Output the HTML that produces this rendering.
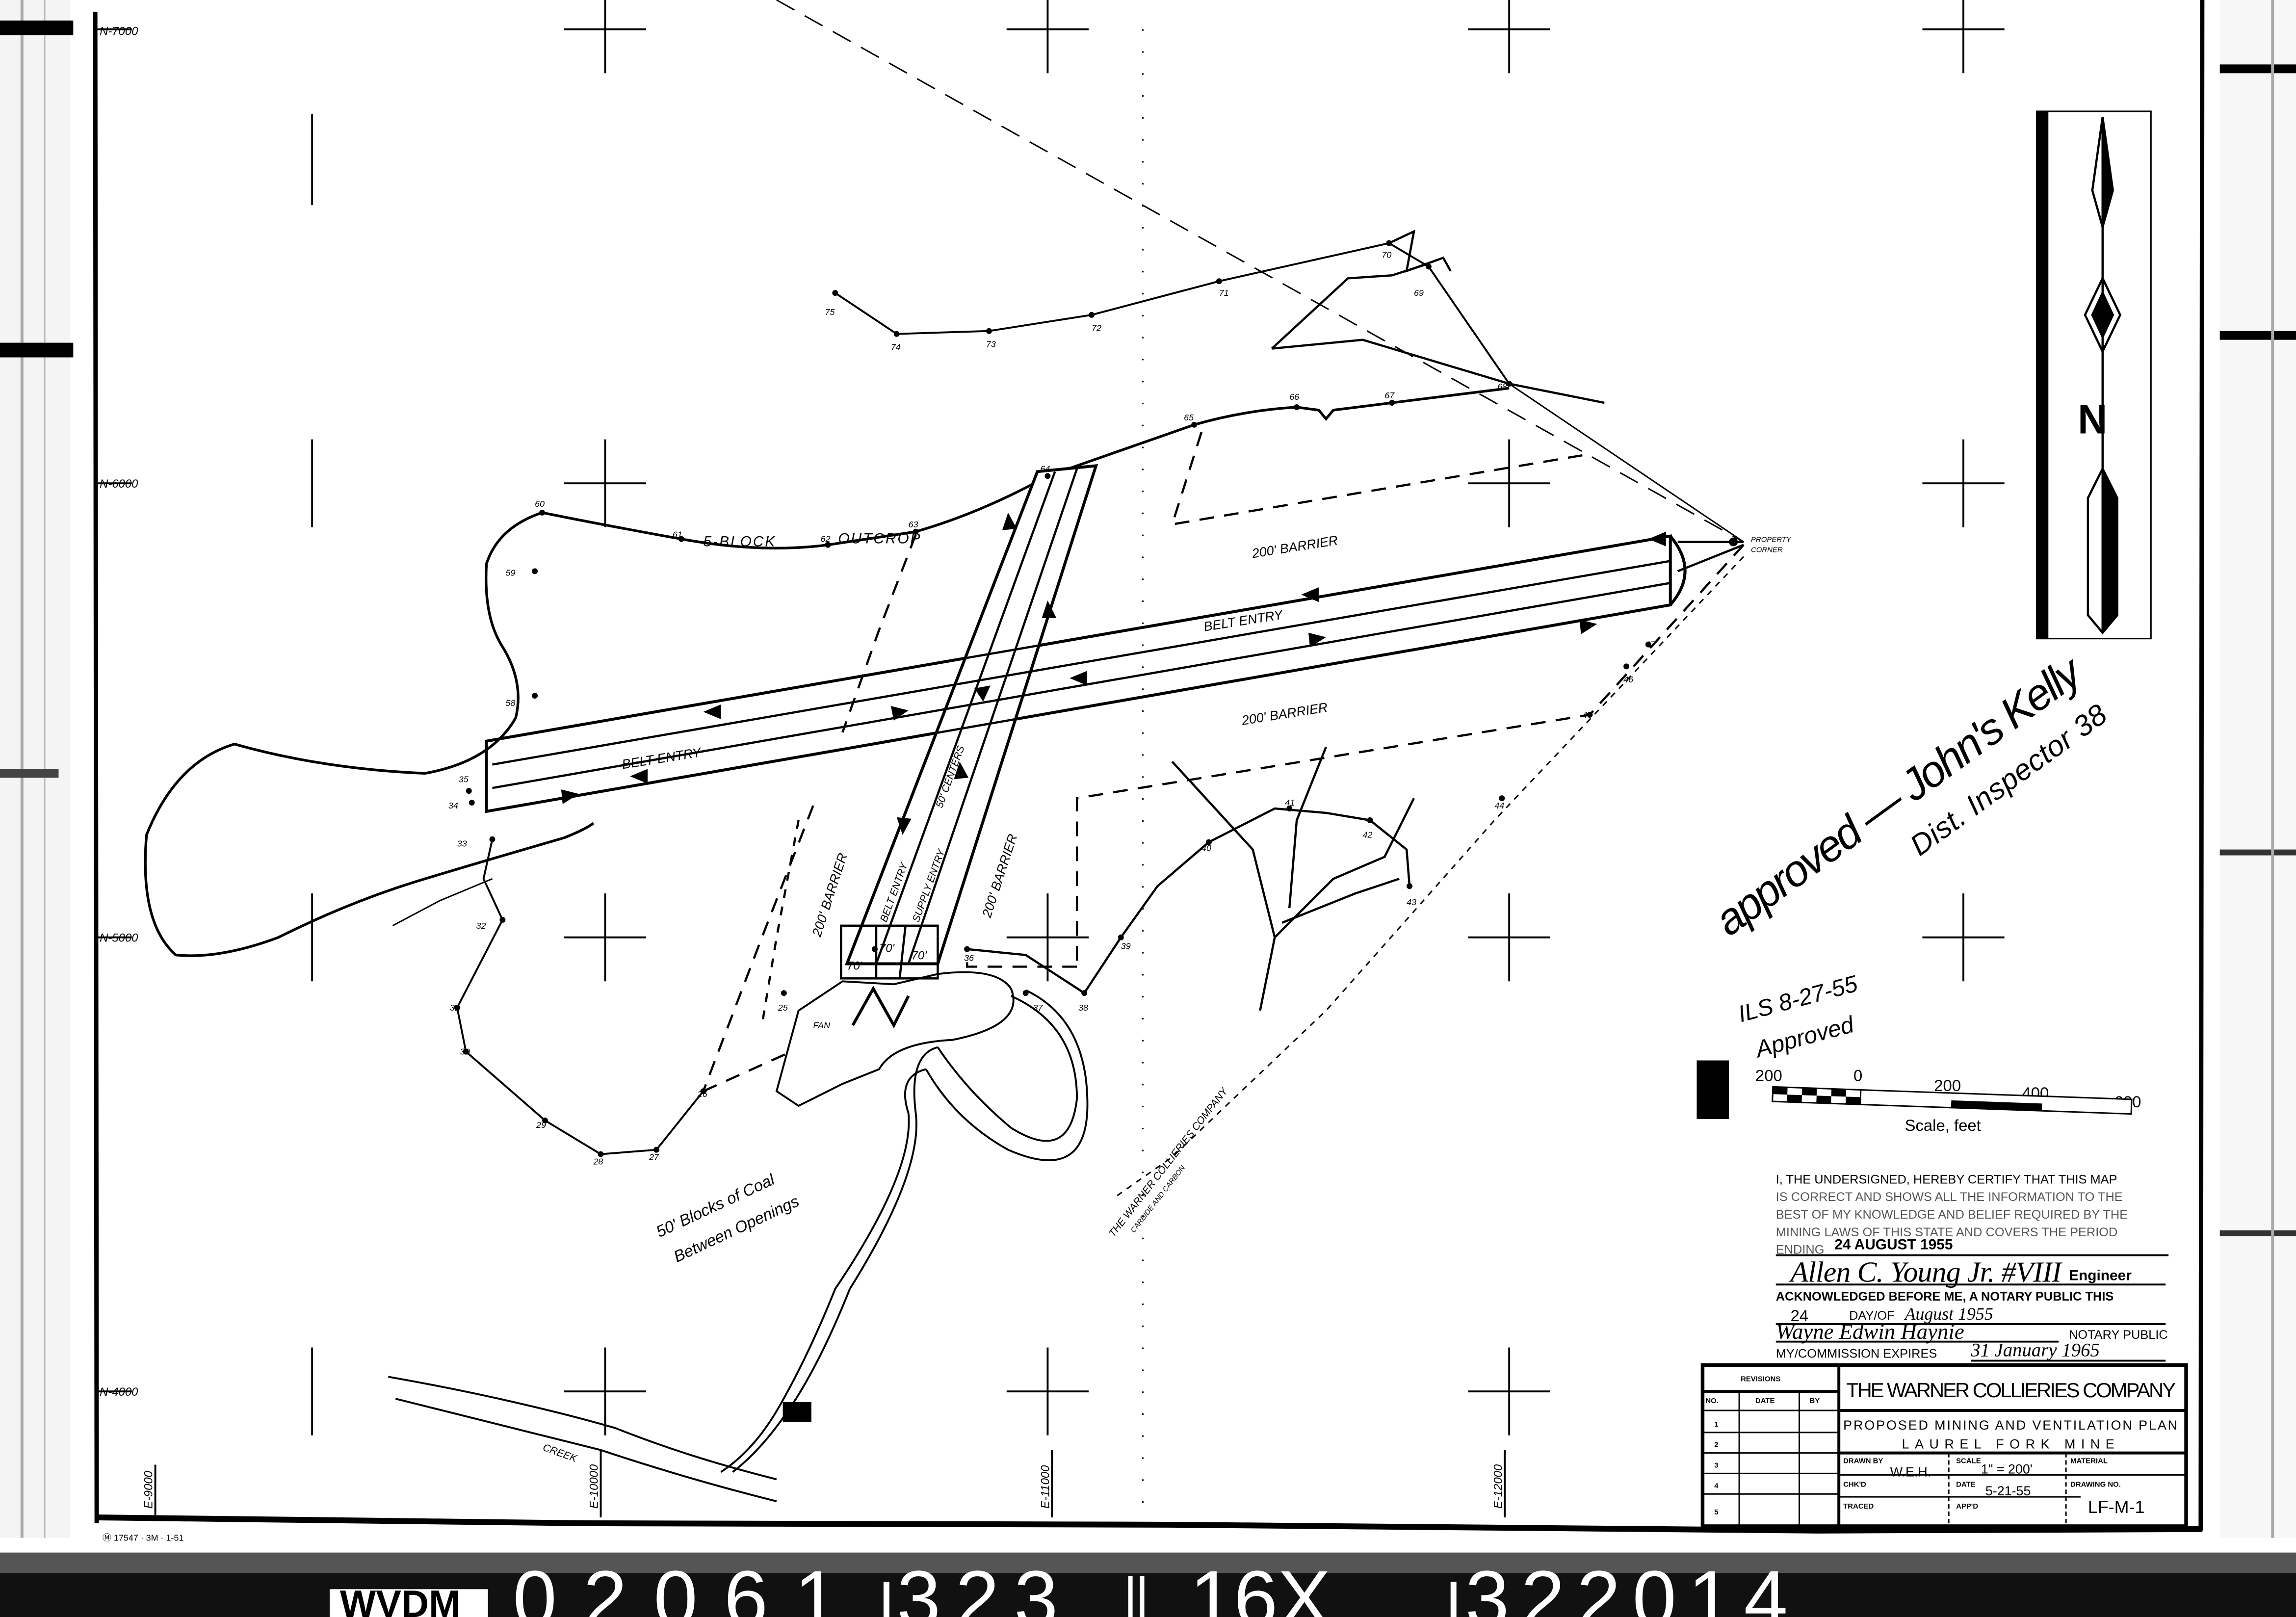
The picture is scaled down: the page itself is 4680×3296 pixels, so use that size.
<!DOCTYPE html>
<html><head><meta charset="utf-8">
<style>
html,body{margin:0;padding:0;background:#fff;}
svg{display:block;}
text{font-family:"Liberation Sans",sans-serif;fill:#000;}
.m{font-family:"Liberation Mono",monospace;}
.h{font-family:"Liberation Serif",serif;font-style:italic;}
</style></head><body>
<svg width="4680" height="3296" viewBox="0 0 1567 1104" preserveAspectRatio="none" xmlns="http://www.w3.org/2000/svg">
<rect width="1567" height="1104" fill="#fff"/>
<rect x="0" y="0" width="48" height="1060" fill="#f4f4f4"/>
<rect x="14" y="0" width="2" height="1060" fill="#aaa"/>
<rect x="30" y="0" width="1" height="1060" fill="#bbb"/>
<rect x="0" y="14" width="50" height="10" fill="#000"/>
<rect x="0" y="234" width="50" height="10" fill="#000"/>
<rect x="0" y="525" width="40" height="6" fill="#444"/>
<rect x="1515" y="0" width="52" height="1060" fill="#f7f7f7"/>
<rect x="1515" y="44" width="52" height="6" fill="#000"/>
<rect x="1515" y="226" width="52" height="6" fill="#000"/>
<rect x="1515" y="580" width="52" height="4" fill="#333"/>
<rect x="1515" y="840" width="52" height="4" fill="#333"/>
<rect x="1550" y="0" width="2" height="1060" fill="#aaa"/>
<g stroke="#000" fill="none">
<line x1="65" y1="8" x2="66" y2="1040" stroke-width="3"/>
<line x1="1503" y1="0" x2="1502" y2="1045" stroke-width="3"/>
<polyline points="65,1036 400,1040 800,1041 1240,1045 1503,1044" stroke-width="4"/>
</g>
<rect x="0" y="1062" width="1567" height="42" fill="#111"/>
<polygon points="0,1050 1567,1050 1567,1070 0,1062" fill="#fff"/>
<rect x="0" y="1060" width="1567" height="14" fill="#555"/>
<rect x="225" y="1085" width="108" height="19" fill="#fff"/>
<text x="232" y="1104" font-size="26" font-weight="bold">WVDM</text>
<text x="350" y="1110" font-size="54" style="fill:#fff" letter-spacing="18">02061</text>
<rect x="603" y="1080" width="4" height="24" fill="#fff"/>
<text x="612" y="1110" font-size="54" style="fill:#fff" letter-spacing="10">323</text>
<rect x="770" y="1076" width="3" height="28" fill="#fff"/><rect x="778" y="1076" width="3" height="28" fill="#fff"/>
<text x="812" y="1110" font-size="54" style="fill:#fff">16X</text>
<rect x="990" y="1080" width="4" height="24" fill="#fff"/>
<text x="1000" y="1110" font-size="54" style="fill:#fff" letter-spacing="8">322014</text>
<text x="70" y="1052" font-size="6">Ⓜ 17547 · 3M · 1-51</text>

<g stroke="#000" stroke-width="1.3">
<line x1="413" y1="0" x2="413" y2="50"/><line x1="385" y1="20" x2="441" y2="20"/>
<line x1="715" y1="0" x2="715" y2="50"/><line x1="687" y1="20" x2="743" y2="20"/>
<line x1="1030" y1="0" x2="1030" y2="50"/><line x1="1002" y1="20" x2="1058" y2="20"/>
<line x1="1340" y1="0" x2="1340" y2="50"/><line x1="1312" y1="20" x2="1368" y2="20"/>
<line x1="213" y1="78" x2="213" y2="140"/>
<line x1="413" y1="300" x2="413" y2="360"/><line x1="385" y1="330" x2="441" y2="330"/>
<line x1="1030" y1="300" x2="1030" y2="360"/><line x1="1002" y1="330" x2="1058" y2="330"/>
<line x1="1340" y1="300" x2="1340" y2="360"/><line x1="1312" y1="330" x2="1368" y2="330"/>
<line x1="213" y1="300" x2="213" y2="360"/>
<line x1="413" y1="610" x2="413" y2="670"/><line x1="385" y1="640" x2="441" y2="640"/>
<line x1="1030" y1="610" x2="1030" y2="670"/><line x1="1002" y1="640" x2="1058" y2="640"/>
<line x1="715" y1="610" x2="715" y2="670"/><line x1="687" y1="640" x2="743" y2="640"/>
<line x1="1340" y1="610" x2="1340" y2="670"/><line x1="1312" y1="640" x2="1368" y2="640"/>
<line x1="213" y1="610" x2="213" y2="670"/>
<line x1="413" y1="920" x2="413" y2="980"/><line x1="385" y1="950" x2="441" y2="950"/>
<line x1="715" y1="920" x2="715" y2="980"/><line x1="687" y1="950" x2="743" y2="950"/>
<line x1="1030" y1="920" x2="1030" y2="980"/><line x1="1002" y1="950" x2="1058" y2="950"/>
<line x1="213" y1="920" x2="213" y2="980"/>
<line x1="65" y1="20" x2="90" y2="20"/><line x1="65" y1="330" x2="90" y2="330"/><line x1="65" y1="640" x2="90" y2="640"/><line x1="65" y1="950" x2="90" y2="950"/>
<line x1="106" y1="1000" x2="106" y2="1036"/><line x1="410" y1="990" x2="410" y2="1036"/><line x1="718" y1="990" x2="718" y2="1036"/><line x1="1027" y1="990" x2="1027" y2="1036"/>
<line x1="780" y1="20" x2="780" y2="1036" stroke-dasharray="1 14" stroke-width="1"/>
</g>
<g font-size="8" class="h">
<text x="68" y="24">N-7000</text><text x="68" y="333">N-6000</text><text x="68" y="643">N-5000</text><text x="68" y="953">N-4000</text>
<text transform="translate(104,1030) rotate(-90)">E-9000</text>
<text transform="translate(408,1030) rotate(-90)">E-10000</text>
<text transform="translate(716,1030) rotate(-90)">E-11000</text>
<text transform="translate(1025,1030) rotate(-90)">E-12000</text>
</g>

<g stroke="#000" fill="none" stroke-width="1.5">
<line x1="530" y1="0" x2="1190" y2="370" stroke-dasharray="14 8" stroke-width="1"/>
<polyline points="570,200 612,228 675,226 745,215 832,192 948,166 975,182 1030,262" stroke-width="1.3"/>
<polyline points="948,166 965,158 960,185 985,176 990,185" />
<polyline points="868,238 920,190 950,188 975,180"/>
<polyline points="868,238 930,232 1030,262 1095,275"/>
<line x1="1030" y1="262" x2="1190" y2="370" stroke-width="1"/>
<path d="M370,350 Q420,360 465,368 Q520,378 565,372 L625,363 Q670,350 715,325 L815,290 Q850,280 885,278 L900,280 905,286 910,280 L950,275 1030,265" stroke-width="1.8"/>
<path d="M370,350 Q340,360 332,385 Q330,420 342,440 Q358,465 352,490 Q335,520 290,528 Q220,525 160,508 Q120,520 100,570 Q95,630 120,652 Q150,655 190,640 Q240,615 290,600 Q340,585 385,572 Q400,566 405,562" stroke-width="1.8"/>
<polyline points="336,573 330,600 343,628 312,688 318,718 372,765 410,788 448,785 480,745" stroke-width="1.3"/>
<polyline points="336,600 300,615 268,632" stroke-width="1"/>
<polyline points="625,365 600,430 575,500" stroke-dasharray="10 7"/>
<polyline points="555,550 520,640 480,745" stroke-dasharray="10 7"/>
<polyline points="480,745 540,718" stroke-dasharray="10 7"/>
<polyline points="820,295 800,358 1085,310" stroke-dasharray="10 7"/>
<polyline points="1190,372 1085,488 735,545 735,660" stroke-dasharray="10 7"/>
<polyline points="1190,380 1020,560 905,690 800,790 760,818" stroke-dasharray="4 4" stroke-width="1"/>
<polyline points="735,660 660,660 660,650" stroke-dasharray="10 7"/>
<polyline points="545,560 530,640 520,700" stroke-dasharray="6 6"/>
<polygon points="332,506 1140,366 1140,413 332,554" stroke-width="2"/>
<path d="M1140,366 Q1160,390 1140,413" stroke-width="2"/>
<line x1="1145" y1="370" x2="1190" y2="370"/><line x1="1145" y1="390" x2="1190" y2="372"/>
<polygon points="708,322 748,318 640,658 578,658" fill="#fff" stroke-width="2"/>
<line x1="720" y1="322" x2="598" y2="658"/>
<line x1="735" y1="320" x2="620" y2="658"/>
<path d="M332,506 L1140,366 M332,554 L1140,413"/>
<line x1="336" y1="522" x2="1140" y2="383"/>
<line x1="336" y1="538" x2="1140" y2="398"/>
<rect x="574" y="632" width="66" height="36" stroke-width="1.5"/>
<line x1="598" y1="632" x2="598" y2="668"/><line x1="618" y1="632" x2="614" y2="668"/>
<path d="M545,690 L575,670 610,672 640,665 Q680,660 690,675 Q700,700 650,710 Q610,712 600,730 L575,740 545,755 530,745 Z" stroke-width="1.3"/>
<path d="M640,715 Q620,720 625,760 Q630,800 580,880 Q560,930 540,960 Q520,990 500,1005" stroke-width="1.3"/>
<path d="M632,730 Q612,735 620,760 Q624,800 570,880 Q552,925 532,960 Q515,990 492,1005" stroke-width="1.3"/>
<path d="M640,715 Q660,745 690,770 Q730,795 735,750 Q735,700 690,680" stroke-width="1.3"/>
<path d="M632,730 Q652,765 688,785 Q745,810 742,748 Q740,695 700,676" stroke-width="1.3"/>
<path d="M265,940 Q350,955 420,975 Q470,995 530,1010" stroke-width="1.3"/>
<path d="M270,955 Q350,975 410,990 Q470,1010 530,1025" stroke-width="1.3"/>
<rect x="535" y="958" width="18" height="12" fill="#000"/>
<polyline points="660,648 700,652 740,678 765,640 790,605 825,575 870,552 905,555 935,560 960,580 962,605"/>
<polyline points="800,520 855,580 870,640 860,690"/>
<polyline points="905,510 885,560 880,620"/>
<polyline points="870,640 910,600 945,585 965,545"/>
<polyline points="875,630 925,610 955,600"/>
<polyline points="582,700 596,675 610,700 620,680" stroke-width="2"/>
</g>
<g fill="#000">
<polygon points="480,486 492,481 492,491"/><polygon points="620,485 608,482 610,492"/>
<polygon points="905,435 893,432 894,442"/><polygon points="1090,426 1078,423 1079,433"/>
<polygon points="1125,368 1137,363 1137,373"/><polygon points="888,406 900,401 900,411"/>
<polygon points="730,463 742,458 742,468"/><polygon points="430,530 442,525 442,535"/>
<polygon points="395,542 383,539 384,549"/><polygon points="715,410 711,422 721,422"/>
<polygon points="688,350 684,362 694,361"/><polygon points="655,520 651,532 661,531"/>
<polygon points="616,570 612,558 622,559"/><polygon points="665,470 676,468 671,479"/>
</g>
<g fill="#000">
<circle cx="570" cy="200" r="2"/><circle cx="612" cy="228" r="2"/><circle cx="675" cy="226" r="2"/><circle cx="745" cy="215" r="2"/><circle cx="832" cy="192" r="2"/><circle cx="948" cy="166" r="2"/><circle cx="975" cy="182" r="2"/><circle cx="1030" cy="262" r="2"/>
<circle cx="370" cy="350" r="2"/><circle cx="465" cy="368" r="2"/><circle cx="565" cy="372" r="2"/><circle cx="625" cy="363" r="2"/><circle cx="715" cy="325" r="2"/><circle cx="815" cy="290" r="2"/><circle cx="885" cy="278" r="2"/><circle cx="950" cy="275" r="2"/><circle cx="1183" cy="370" r="3"/>
<circle cx="365" cy="390" r="2"/><circle cx="365" cy="475" r="2"/><circle cx="320" cy="540" r="2"/><circle cx="322" cy="548" r="2"/><circle cx="336" cy="573" r="2"/>
<circle cx="343" cy="628" r="2"/><circle cx="312" cy="688" r="2"/><circle cx="318" cy="718" r="2"/><circle cx="372" cy="765" r="2"/><circle cx="410" cy="788" r="2"/><circle cx="448" cy="785" r="2"/><circle cx="480" cy="745" r="2"/>
<circle cx="535" cy="678" r="2"/><circle cx="597" cy="648" r="2"/><circle cx="660" cy="648" r="2"/><circle cx="700" cy="678" r="2"/><circle cx="740" cy="678" r="2"/><circle cx="765" cy="640" r="2"/><circle cx="825" cy="575" r="2"/><circle cx="880" cy="552" r="2"/><circle cx="935" cy="560" r="2"/><circle cx="962" cy="605" r="2"/>
<circle cx="1025" cy="545" r="2"/><circle cx="1085" cy="488" r="2"/><circle cx="1110" cy="455" r="2"/><circle cx="1125" cy="440" r="2"/>
</g>
<g font-size="6" class="h">
<text x="563" y="215">75</text><text x="608" y="239">74</text><text x="673" y="237">73</text><text x="745" y="226">72</text><text x="832" y="202">71</text><text x="943" y="176">70</text><text x="965" y="202">69</text><text x="1022" y="266">68</text>
<text x="365" y="346">60</text><text x="459" y="367">61</text><text x="560" y="370">62</text><text x="620" y="360">63</text><text x="710" y="322">64</text><text x="808" y="287">65</text><text x="880" y="273">66</text><text x="945" y="272">67</text>
<text x="345" y="393">59</text><text x="345" y="482">58</text><text x="313" y="534">35</text><text x="306" y="552">34</text><text x="312" y="578">33</text>
<text x="325" y="634">32</text><text x="307" y="690">31</text><text x="314" y="720">30</text><text x="366" y="770">29</text><text x="405" y="795">28</text><text x="443" y="792">27</text><text x="476" y="749">26</text>
<text x="531" y="690">25</text><text x="658" y="656">36</text><text x="705" y="690">37</text><text x="736" y="690">38</text><text x="765" y="648">39</text><text x="820" y="581">40</text><text x="877" y="550">41</text><text x="930" y="572">42</text><text x="960" y="618">43</text>
<text x="1020" y="552">44</text><text x="1080" y="490">45</text><text x="1108" y="466">46</text><text x="1123" y="442">47</text>
<text x="1195" y="370" font-size="5">PROPERTY</text><text x="1195" y="377" font-size="5">CORNER</text>
</g>
<g class="h" font-size="9">
<text x="480" y="373" font-size="10" letter-spacing="1">5-BLOCK</text><text x="572" y="371" font-size="10" letter-spacing="1">OUTCROP</text>
<text x="855" y="381" transform="rotate(-9 855 381)">200' BARRIER</text>
<text x="822" y="431" transform="rotate(-9 822 431)">BELT ENTRY</text>
<text x="848" y="495" transform="rotate(-9 848 495)">200' BARRIER</text>
<text x="425" y="525" transform="rotate(-9 425 525)">BELT ENTRY</text>
<text transform="translate(560,640) rotate(-72)">200' BARRIER</text>
<text transform="translate(676,627) rotate(-72)">200' BARRIER</text>
<text transform="translate(605,630) rotate(-70)" font-size="7">BELT ENTRY</text>
<text transform="translate(627,630) rotate(-70)" font-size="7">SUPPLY ENTRY</text>
<text transform="translate(643,552) rotate(-70)" font-size="7">50' CENTERS</text>
<text x="578" y="662" font-size="8">70'</text><text x="600" y="650" font-size="8">70'</text><text x="622" y="655" font-size="8">70'</text>
<text x="555" y="702" font-size="6">FAN</text>
<text transform="translate(450,845) rotate(-25)" font-size="11">50' Blocks of Coal</text>
<text transform="translate(462,862) rotate(-25)" font-size="11">Between Openings</text>
<text transform="translate(760,845) rotate(-52)" font-size="7">THE WARNER COLLIERIES COMPANY</text>
<text transform="translate(774,842) rotate(-52)" font-size="5">CARBIDE AND CARBON</text>
<text transform="translate(370,990) rotate(20)" font-size="7">CREEK</text>
</g>
<g class="h">
<text transform="translate(1180,640) rotate(-36)" font-size="30" textLength="300">approved — John's Kelly</text>
<text transform="translate(1310,585) rotate(-36)" font-size="20" textLength="160">Dist. Inspector 38</text>
<text transform="translate(1188,698) rotate(-15)" font-size="16">ILS 8-27-55</text>
<text transform="translate(1200,722) rotate(-15)" font-size="16">Approved</text>
</g>
<rect x="1390" y="76" width="78" height="360" fill="none" stroke="#000" stroke-width="1"/>
<rect x="1390" y="76" width="8" height="360" fill="#000"/>
<g stroke="#000" stroke-width="1.5" fill="none">
<line x1="1435" y1="80" x2="1435" y2="432"/>
<polygon points="1435,80 1442,130 1435,155 1428,130"/>
<polygon points="1435,190 1447,215 1435,240 1423,215"/>
<polygon points="1435,200 1442,215 1435,230 1428,215" fill="#000"/>
<polygon points="1435,320 1445,340 1445,420 1435,432 1425,420 1425,340"/>
</g>
<polygon points="1435,80 1442,130 1435,155" fill="#000"/>
<polygon points="1435,320 1445,340 1445,420 1435,432" fill="#000"/>
<text x="1418" y="296" font-size="28" font-family="Liberation Serif" font-weight="bold">N</text>
<rect x="1158" y="724" width="22" height="40" fill="#000"/>
<g font-size="11"><text x="1198" y="738">200</text><text x="1265" y="738">0</text><text x="1320" y="745">200</text><text x="1380" y="750">400</text><text x="1443" y="756">600</text>
<text x="1300" y="772">Scale, feet</text></g>
<g transform="rotate(2 1210 742)">
<rect x="1210" y="742" width="245" height="10" fill="#fff" stroke="#000"/>
<rect x="1210" y="742" width="10" height="5" fill="#000"/><rect x="1230" y="742" width="10" height="5" fill="#000"/><rect x="1250" y="742" width="10" height="5" fill="#000"/>
<rect x="1220" y="747" width="10" height="5" fill="#000"/><rect x="1240" y="747" width="10" height="5" fill="#000"/><rect x="1260" y="747" width="10" height="5" fill="#000"/>
<rect x="1332" y="747" width="62" height="5" fill="#000"/>
<line x1="1270" y1="742" x2="1270" y2="752" stroke="#000"/>
</g>
<g class="m" font-size="8.5">
<text x="1212" y="808">I, THE UNDERSIGNED, HEREBY CERTIFY THAT THIS MAP</text>
<text x="1212" y="820" style="fill:#555">IS CORRECT AND SHOWS ALL THE INFORMATION TO THE</text>
<text x="1212" y="832" style="fill:#555">BEST OF MY KNOWLEDGE AND BELIEF REQUIRED BY THE</text>
<text x="1212" y="844" style="fill:#555">MINING LAWS OF THIS STATE AND COVERS THE PERIOD</text>
<text x="1212" y="856" style="fill:#555">ENDING</text>
<text x="1252" y="853" font-size="10" font-weight="bold">24 AUGUST 1955</text>
<text x="1412" y="874" font-size="10" font-weight="bold">Engineer</text>
<text x="1212" y="888" font-weight="bold">ACKNOWLEDGED BEFORE ME, A NOTARY PUBLIC THIS</text>
<text x="1222" y="902" font-size="11">24</text><text x="1262" y="901">DAY/OF</text><text x="1300" y="901" font-size="12" class="h">August 1955</text>
<text x="1412" y="914">NOTARY PUBLIC</text>
<text x="1212" y="927">MY/COMMISSION EXPIRES</text><text x="1345" y="926" font-size="13" class="h">31 January 1965</text>
</g>
<text x="1222" y="875" font-size="20" class="h" textLength="185">Allen C. Young Jr. #VIII</text>
<text x="1212" y="914" font-size="15" class="h">Wayne Edwin Haynie</text>
<g stroke="#000" stroke-width="1.3">
<line x1="1212" y1="857" x2="1480" y2="857"/><line x1="1212" y1="877" x2="1478" y2="877"/>
<line x1="1212" y1="904" x2="1478" y2="904"/><line x1="1212" y1="916" x2="1405" y2="916"/><line x1="1345" y1="929" x2="1478" y2="929"/>
</g>
<g stroke="#000" fill="none">
<rect x="1162" y="932" width="330" height="110" stroke-width="2.5"/>
<line x1="1255" y1="932" x2="1255" y2="1042" stroke-width="2"/>
<line x1="1162" y1="950" x2="1255" y2="950" stroke-width="2"/>
<line x1="1255" y1="963" x2="1492" y2="963" stroke-width="2"/>
<line x1="1255" y1="992" x2="1492" y2="992" stroke-width="2"/>
<line x1="1162" y1="963" x2="1255" y2="963"/>
<line x1="1162" y1="978" x2="1255" y2="978"/><line x1="1162" y1="992" x2="1255" y2="992"/><line x1="1162" y1="1006" x2="1255" y2="1006"/><line x1="1162" y1="1020" x2="1255" y2="1020"/>
<line x1="1187" y1="950" x2="1187" y2="1042"/><line x1="1228" y1="950" x2="1228" y2="1042"/>
<line x1="1255" y1="1007" x2="1492" y2="1007"/><line x1="1255" y1="1022" x2="1420" y2="1022"/>
<line x1="1330" y1="992" x2="1330" y2="1042" stroke-dasharray="3 2"/><line x1="1410" y1="992" x2="1410" y2="1042" stroke-dasharray="3 2"/>
</g>
<g font-size="5" font-weight="bold">
<text x="1188" y="943">REVISIONS</text><text x="1164" y="958">NO.</text><text x="1198" y="958">DATE</text><text x="1235" y="958">BY</text>
<text x="1170" y="974">1</text><text x="1170" y="988">2</text><text x="1170" y="1002">3</text><text x="1170" y="1016">4</text><text x="1170" y="1034">5</text>
<text x="1258" y="999">DRAWN BY</text><text x="1335" y="999">SCALE</text><text x="1413" y="999">MATERIAL</text>
<text x="1258" y="1015">CHK'D</text><text x="1335" y="1015">DATE</text><text x="1413" y="1015">DRAWING NO.</text>
<text x="1258" y="1030">TRACED</text><text x="1335" y="1030">APP'D</text>
</g>
<text x="1260" y="954" font-size="14" textLength="225">THE WARNER COLLIERIES COMPANY</text>
<text x="1258" y="976" font-size="9" textLength="228">PROPOSED MINING AND VENTILATION PLAN</text>
<text x="1298" y="989" font-size="9" textLength="145">LAUREL FORK MINE</text>
<text x="1290" y="1008" font-size="9">W.E.H.</text><text x="1352" y="1006" font-size="9">1" = 200'</text>
<text x="1355" y="1021" font-size="9">5-21-55</text><text x="1425" y="1033" font-size="12">LF-M-1</text>
</svg>
</body></html>
